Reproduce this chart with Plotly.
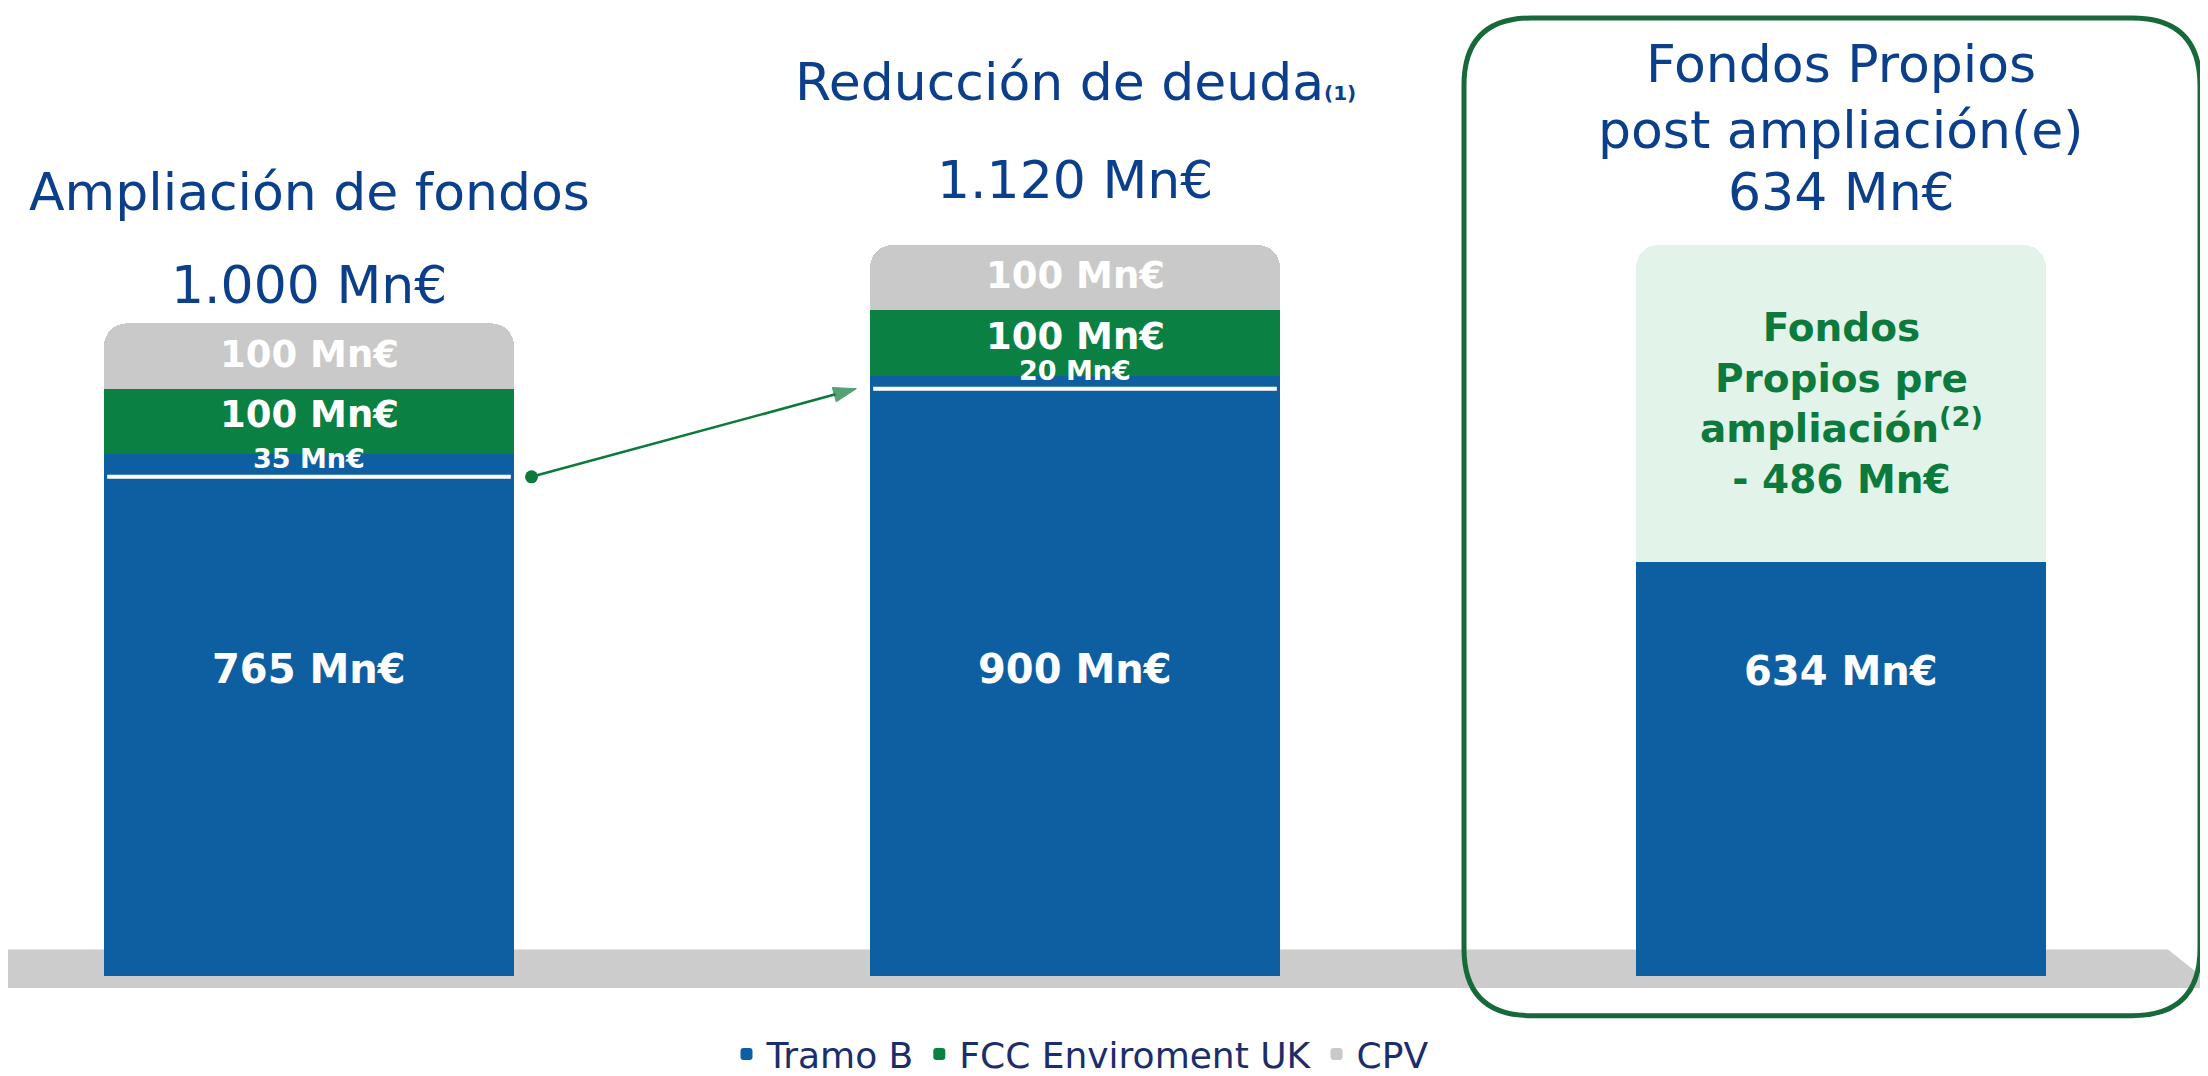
import plotly.graph_objects as go

W, H = 2208, 1076

# ---------------- data ----------------
categories = ["Ampliación de fondos", "Reducción de deuda", "Fondos Propios post ampliación(e)"]
x_pos = [0, 1, 2]
tramo_b_base = [765, 900, None]
tramo_b_extra = [35, 20, None]
fcc_uk = [100, 100, None]
cpv = [100, 100, None]
fp_post = [None, None, 634]
fp_pre = [None, None, 486]
legend_names = ["Tramo B", "FCC Enviroment UK", "CPV"]

# ---------------- style ----------------
BLUE = "#0e5ea2"
GREEN = "#0b8043"
GRAY = "#c9c9c9"
LIGHT_GREEN = "#e2f3e9"
TITLE_COLOR = "#0b3f8c"
DARK_GREEN = "#0b7a3c"
FONT = "DejaVu Sans"
BAR_W = 0.535


def px(x):
    return x / W


def py(y):
    return 1 - y / H


def fmt(v):
    return f"{v:,}".replace(",", ".")


def tot(*series, i):
    return sum((s[i] or 0) for s in series)


fig = go.Figure()

# stacked bars
fig.add_trace(go.Bar(x=x_pos, y=tramo_b_base, name=legend_names[0], marker_color=BLUE,
                     width=BAR_W, legendgroup="tb", marker_line_width=0))
fig.add_trace(go.Bar(x=x_pos, y=tramo_b_extra, name=legend_names[0], marker_color=BLUE,
                     width=BAR_W, legendgroup="tb", showlegend=False, marker_line_width=0))
fig.add_trace(go.Bar(x=x_pos, y=fcc_uk, name=legend_names[1], marker_color=GREEN,
                     width=BAR_W, marker_line_width=0))
fig.add_trace(go.Bar(x=x_pos, y=cpv, name=legend_names[2], marker_color=GRAY,
                     width=BAR_W, marker_line_width=0))
fig.add_trace(go.Bar(x=x_pos, y=fp_post, name="Fondos Propios post", marker_color=BLUE,
                     width=BAR_W, showlegend=False, marker_line_width=0))
fig.add_trace(go.Bar(x=x_pos, y=fp_pre, name="Fondos Propios pre", marker_color=LIGHT_GREEN,
                     width=BAR_W, showlegend=False, marker_line_width=0))

# white separator lines between Tramo B parts
for i in x_pos:
    if tramo_b_base[i] is not None:
        fig.add_trace(go.Scatter(x=[i - BAR_W / 2 + 0.004, i + BAR_W / 2 - 0.004],
                                 y=[tramo_b_base[i], tramo_b_base[i]], mode="lines",
                                 line=dict(color="white", width=4), showlegend=False,
                                 hoverinfo="skip"))

# arrow from bar 1 split to bar 2 split
ax0 = x_pos[0] + BAR_W / 2 + 0.023
ax1 = x_pos[1] - BAR_W / 2 - 0.018
fig.add_trace(go.Scatter(x=[ax0, ax1], y=[tramo_b_base[0], tramo_b_base[1]],
                         mode="lines+markers",
                         line=dict(color=DARK_GREEN, width=2.6),
                         marker=dict(color=DARK_GREEN, size=[0, 24], symbol="arrow",
                                     angleref="previous",
                                     line=dict(color=DARK_GREEN, width=1)),
                         showlegend=False, hoverinfo="skip"))
fig.add_trace(go.Scatter(x=[ax0], y=[tramo_b_base[0]], mode="markers",
                         marker=dict(color=DARK_GREEN, size=13, symbol="circle"),
                         showlegend=False, hoverinfo="skip"))

# segment labels
lab_font = dict(family=FONT, size=40, color="white")
mid_font = dict(family=FONT, size=37, color="white")
small_font = dict(family=FONT, size=27, color="white")
for i in (0, 1):
    b = tramo_b_base[i]
    e = tramo_b_extra[i]
    g = fcc_uk[i]
    c = cpv[i]
    fig.add_annotation(x=i, y=py(668), xref="x", yref="paper", text=f"<b>{b} Mn€</b>",
                       showarrow=False, font=lab_font, yanchor="middle")
    fig.add_annotation(x=i, y=b, xref="x", yref="y", text=f"<b>{e} Mn€</b>",
                       showarrow=False, font=small_font, yanchor="bottom", yshift=1)
    fig.add_annotation(x=i, y=b + e + g / 2, xref="x", yref="y", text=f"<b>{g} Mn€</b>",
                       showarrow=False, font=mid_font, yanchor="middle", yshift=7)
    fig.add_annotation(x=i, y=b + e + g + c / 2, xref="x", yref="y", text=f"<b>{c} Mn€</b>",
                       showarrow=False, font=mid_font, yanchor="middle", yshift=2)

fig.add_annotation(x=2, y=py(670), xref="x", yref="paper", text=f"<b>{fp_post[2]} Mn€</b>",
                   showarrow=False, font=lab_font, yanchor="middle")
fig.add_annotation(x=2, y=fp_post[2] + fp_pre[2] / 2, xref="x", yref="y",
                   text=("<b>Fondos<br>Propios pre<br>ampliación<sup>(2)</sup><br>"
                         f"- {fp_pre[2]} Mn€</b>"),
                   showarrow=False, font=dict(family=FONT, size=39, color=DARK_GREEN),
                   yanchor="middle")

# titles
title_font = dict(family=FONT, size=52, color=TITLE_COLOR)


def title(i, ypix, text):
    fig.add_annotation(x=i, y=py(ypix), xref="x", yref="paper", text=text,
                       showarrow=False, font=title_font, yanchor="middle", xanchor="center")


title(0, 186, categories[0])
title(0, 280, f"{fmt(tot(tramo_b_base, tramo_b_extra, fcc_uk, cpv, i=0))} Mn€")
title(1, 75, categories[1] + "<span style='font-size:20px'><b>(1)</b></span>")
title(1, 174, f"{fmt(tot(tramo_b_base, tramo_b_extra, fcc_uk, cpv, i=1))} Mn€")
title(2, 57, "Fondos Propios")
title(2, 123, "post ampliación(e)")
title(2, 186, f"{fmt(fp_post[2])} Mn€")

# floor band
floor_path = (f"M {px(0)},{py(952)} L {px(2160)},{py(952)} L {px(2208)},{py(991)} "
              f"L {px(0)},{py(991)} Z")
fig.add_shape(type="path", path=floor_path, xref="paper", yref="paper",
              fillcolor="#cccccc", line=dict(width=0), layer="below")

# rounded green frame around third bar
L, R, T, B, r = 1456, 2192, 10, 1019, 68
rx, ry = r, r
frame = (f"M {px(L + rx)},{py(T)} L {px(R - rx)},{py(T)} Q {px(R)},{py(T)} {px(R)},{py(T + ry)} "
         f"L {px(R)},{py(B - ry)} Q {px(R)},{py(B)} {px(R - rx)},{py(B)} "
         f"L {px(L + rx)},{py(B)} Q {px(L)},{py(B)} {px(L)},{py(B - ry)} "
         f"L {px(L)},{py(T + ry)} Q {px(L)},{py(T)} {px(L + rx)},{py(T)} Z")
fig.add_shape(type="path", path=frame, xref="paper", yref="paper",
              line=dict(color="#17693a", width=5), fillcolor="rgba(0,0,0,0)", layer="above")

ZERO_PX = 979
K = 0.66
x_unit = 766
x_c0 = 301

fig.update_layout(
    width=W, height=H,
    margin=dict(l=0, r=0, t=0, b=0),
    paper_bgcolor="white", plot_bgcolor="white",
    barmode="stack", barcornerradius=22,
    font=dict(family=FONT),
    xaxis=dict(range=[-x_c0 / x_unit, (W - x_c0) / x_unit], visible=False, fixedrange=True),
    yaxis=dict(range=[-(H - ZERO_PX) / K, ZERO_PX / K], visible=False, fixedrange=True),
    legend=dict(orientation="h", x=px(1072), xanchor="center", y=py(1058), yanchor="middle",
                font=dict(family=FONT, size=36, color="#1c2d6b"), bgcolor="rgba(0,0,0,0)",
                itemwidth=30, traceorder="normal"),
    showlegend=True,
)

fig.write_html("out.html")
